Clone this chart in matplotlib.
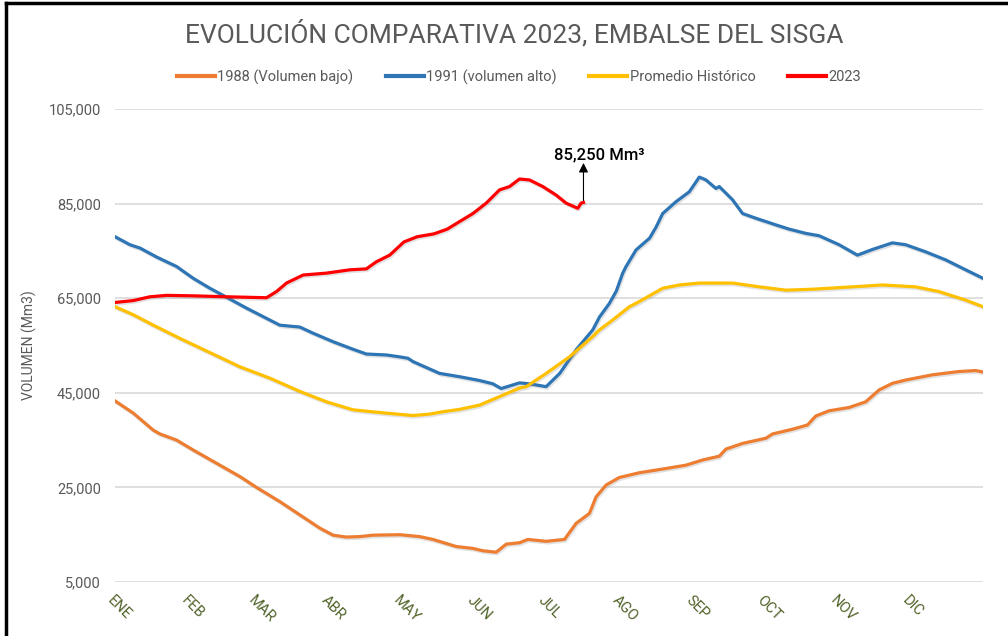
import matplotlib
matplotlib.use('Agg')
import matplotlib.pyplot as plt
import matplotlib.patheffects as pe
from matplotlib import font_manager
from matplotlib.lines import Line2D

# Series data (day of year, volume in Mm3)
dias_1988 = [0, 7.7, 16.1, 18.9, 25.9, 32.9, 42.7, 52.5, 59.5, 69.3, 77.7, 86.1, 91.7, 97.3,
             102.9, 108.5, 119.7, 128.1, 133.7, 143.5, 150.5, 154.7, 160.3, 164.5, 170.1,
             173.6, 181.3, 189, 193.9, 199.5, 202.3, 206.5, 212.1, 220.5, 231.7, 240.1,
             247.1, 254.1, 256.9, 263.9, 273.7, 276.5, 284.9, 291.2, 294.7, 300.3, 308.7,
             315.7, 321.3, 326.9, 332.5, 343.7, 354.9, 361.9, 365]
vol_1988 = [43300, 40700, 37100, 36300, 35000, 32900, 30100, 27300, 25000, 22000, 19200,
            16400, 14900, 14500, 14600, 14900, 15000, 14600, 14000, 12500, 12100, 11600,
            11300, 13000, 13300, 14000, 13600, 14000, 17400, 19500, 23000, 25500, 27100,
            28100, 29000, 29700, 30800, 31600, 33100, 34300, 35400, 36300, 37300, 38200,
            40100, 41200, 41900, 43100, 45600, 47000, 47700, 48800, 49500, 49700, 49400]

dias_1991 = [0, 6.3, 10.5, 17.5, 25.9, 32.9, 39.9, 46.9, 55.3, 62.3, 69.3, 77.7, 83.3, 91.7,
             100.1, 105.7, 114.1, 119.7, 123.2, 125.3, 136.5, 144.9, 153.3, 158.9, 162.4,
             170.1, 174.3, 181.3, 187, 193.9, 200.9, 203.7, 207.9, 210.8, 213.5, 214.9,
             219.1, 224.8, 227.6, 230.3, 235.9, 241.5, 245.7, 248.5, 252.7, 254.1, 259.7,
             263.9, 269.5, 277.9, 283.5, 290.5, 296.1, 304.5, 312.2, 318.5, 326.9, 332.5,
             340.9, 349.3, 354.9, 365]
vol_1991 = [78000, 76300, 75600, 73700, 71700, 69200, 67100, 65200, 62900, 61100, 59300,
            58900, 57600, 55800, 54200, 53200, 53000, 52600, 52300, 51600, 49100, 48400,
            47600, 46900, 45900, 47100, 46900, 46300, 49100, 54100, 58300, 61000, 63900,
            66500, 70300, 71700, 75200, 77700, 80100, 82900, 85400, 87500, 90600, 90000,
            88200, 88600, 85800, 82900, 81900, 80500, 79600, 78700, 78200, 76300, 74100,
            75300, 76700, 76300, 74800, 73100, 71700, 69200]

dias_prom = [0, 7.7, 16.1, 27.3, 39.9, 52.5, 65.1, 77.7, 88.9, 100.1, 114.1, 125.3, 132.3,
             137.9, 144.9, 153.3, 161.7, 170.1, 172.9, 181.3, 191.1, 200.9, 203.7, 209.3,
             216.3, 220.5, 230.3, 237.3, 245.7, 259.7, 271, 282.1, 293.3, 310.1, 322.7,
             336.7, 346.5, 357.7, 365]
vol_prom = [63200, 61500, 59300, 56500, 53500, 50500, 48100, 45300, 43100, 41400, 40700,
            40200, 40500, 41000, 41500, 42400, 44200, 46000, 46300, 49100, 52600, 56900,
            58300, 60400, 63200, 64300, 67100, 67800, 68200, 68200, 67400, 66700, 66900,
            67400, 67800, 67400, 66400, 64600, 63200]

dias_2023 = [0, 7.7, 14.7, 21.7, 32.9, 46.9, 55.3, 63.7, 67.9, 72.1, 79.1, 88.9, 98.7,
             105.7, 109.9, 115.5, 121.5, 127.1, 134.1, 139.7, 144.9, 150.5, 156.1, 161.7,
             165.9, 170.1, 174.3, 179.9, 185.5, 189.7, 194.6, 196.0, 197.0]
vol_2023 = [64100, 64500, 65300, 65600, 65500, 65300, 65200, 65100, 66400, 68200, 69900,
            70300, 71000, 71200, 72700, 74100, 76900, 78000, 78600, 79600, 81200, 82900,
            85100, 87900, 88600, 90200, 90000, 88600, 86800, 85100, 84000, 85100, 85250]

meses = ['ENE', 'FEB', 'MAR', 'ABR', 'MAY', 'JUN', 'JUL', 'AGO', 'SEP', 'OCT', 'NOV', 'DIC']
inicio_mes = [0, 31, 59, 90, 120, 151, 181, 212, 243, 273, 304, 334]
y_ticks = [5000, 25000, 45000, 65000, 85000, 105000]
ultimo_valor = 85250

# Pick a narrow font if there is one
installed = {f.name for f in font_manager.fontManager.ttflist}
narrow = 'Liberation Sans Narrow' if 'Liberation Sans Narrow' in installed else 'Roboto'
plt.rcParams['font.family'] = [narrow, 'DejaVu Sans']

gris = '#595959'
fig = plt.figure(figsize=(10.08, 6.36), dpi=100)
ax = fig.add_axes([115 / 1008, 1 - 582 / 636, (983 - 115) / 1008, (582 - 109) / 636])

sombra = [pe.SimpleLineShadow(offset=(0.8, -1.2), shadow_color='#7f7f7f', alpha=0.22),
          pe.Normal()]
ax.plot(dias_1988, vol_1988, color='#ED7D31', lw=2.3, path_effects=sombra, zorder=3)
ax.plot(dias_1991, vol_1991, color='#2E75B6', lw=2.3, path_effects=sombra, zorder=3)
ax.plot(dias_prom, vol_prom, color='#FFC000', lw=2.3, path_effects=sombra, zorder=3)
ax.plot(dias_2023, vol_2023, color='#FF0000', lw=2.3, path_effects=sombra, zorder=4)

ax.set_xlim(0, 365)
ax.set_ylim(5000, 105000)
ax.set_yticks(y_ticks)
ax.set_yticklabels([f'{v:,}' for v in y_ticks], color=gris, fontsize=10.5)
ax.set_xticks(inicio_mes)
ax.set_xticklabels(meses, rotation=-45, ha='left', va='top', rotation_mode='anchor',
                   color='#4F6228', fontsize=10.5)
ax.tick_params(axis='both', length=0)
ax.tick_params(axis='y', pad=10)
ax.tick_params(axis='x', pad=8)
ax.grid(axis='y', color='#D9D9D9', lw=1.2)
ax.set_axisbelow(True)
for s in ax.spines.values():
    s.set_visible(False)
ax.set_ylabel('VOLUMEN (Mm3)', color=gris, fontsize=10)
ax.yaxis.set_label_coords(-0.090, 0.5)

# Last value annotation
ax.annotate('', xy=(dias_2023[-1], 93600), xytext=(dias_2023[-1], ultimo_valor),
            arrowprops=dict(arrowstyle='-|>', color='black', lw=0.8, mutation_scale=14,
                            shrinkA=0, shrinkB=0))
ax.text(203.5, 94300, f'{ultimo_valor:,} Mm³', ha='center', va='baseline',
        fontsize=12, fontweight='medium', color='black')

fig.text(514 / 1008, 1 - 34 / 636, 'EVOLUCIÓN COMPARATIVA 2023, EMBALSE DEL SISGA',
         ha='center', va='center', fontsize=19, fontweight='normal', color=gris)

handles = [Line2D([], [], color=c, lw=3) for c in ['#ED7D31', '#2E75B6', '#FFC000', '#FF0000']]
fig.legend(handles, ['1988 (Volumen bajo)', '1991 (volumen alto)', 'Promedio Histórico', '2023'],
           loc='center', bbox_to_anchor=(519 / 1008, 1 - 77 / 636), ncol=4, frameon=False,
           fontsize=10.5, labelcolor=gris, handlelength=2.6, handletextpad=0.2,
           columnspacing=2.2)

# Outer frame
fig.add_artist(Line2D([6 / 1008, 6 / 1008], [0, 1 - 3 / 636], color='black', lw=2.5,
                      transform=fig.transFigure))
fig.add_artist(Line2D([6 / 1008, 1], [1 - 3 / 636, 1 - 3 / 636], color='black', lw=2.5,
                      transform=fig.transFigure))

fig.savefig('out.png', dpi=100)
